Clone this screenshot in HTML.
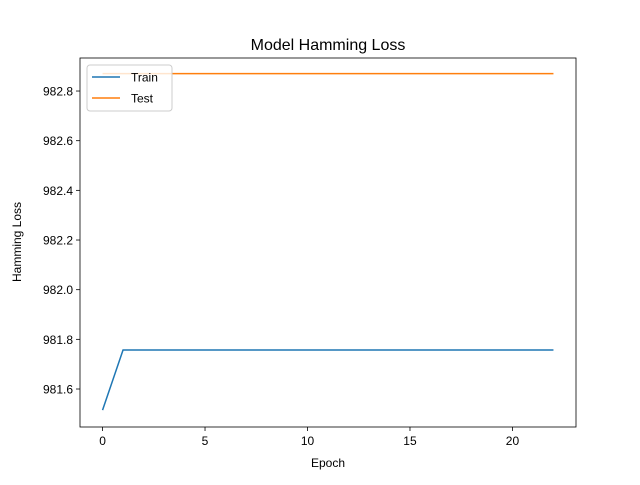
<!DOCTYPE html>
<html><head><meta charset="utf-8"><style>
body{margin:0;background:#fff}
svg text{font-family:"Liberation Sans","DejaVu Sans",sans-serif;fill:#000}
</style></head><body>
<svg id="chart" width="640" height="480" viewBox="0 0 640 480">
<rect width="640" height="480" fill="#fff"/>
<text x="328" y="50" font-size="16" text-anchor="middle">Model Hamming Loss</text>
<g id="plot"></g>
<text x="328" y="467" font-size="12" text-anchor="middle">Epoch</text>
<text x="21" y="242" font-size="12" text-anchor="middle" transform="rotate(-90 21 242)">Hamming Loss</text>
</svg>
<script>
const epochs=[0,1,2,3,4,5,6,7,8,9,10,11,12,13,14,15,16,17,18,19,20,21,22];
const trainLoss=[981.515,981.757,981.757,981.757,981.757,981.757,981.757,981.757,981.757,981.757,981.757,981.757,981.757,981.757,981.757,981.757,981.757,981.757,981.757,981.757,981.757,981.757,981.757];
const testLoss=[982.87,982.87,982.87,982.87,982.87,982.87,982.87,982.87,982.87,982.87,982.87,982.87,982.87,982.87,982.87,982.87,982.87,982.87,982.87,982.87,982.87,982.87,982.87];
const xTicks=[0,5,10,15,20];
const yTicks=[981.6,981.8,982.0,982.2,982.4,982.6,982.8];
const yTickLabels=["981.6","981.8","982.0","982.2","982.4","982.6","982.8"];
const L=80,R=576,T=58,B=427;
const xMin=-1.1,xMax=23.1,yMin=981.447,yMax=982.933;
const sx=v=>L+(v-xMin)/(xMax-xMin)*(R-L);
const sy=v=>B-(v-yMin)/(yMax-yMin)*(B-T);
const NS="http://www.w3.org/2000/svg";
const g=document.getElementById('plot');
function mk(t,a){const e=document.createElementNS(NS,t);for(const k in a)e.setAttribute(k,a[k]);g.appendChild(e);return e;}
xTicks.forEach(v=>{
 const l=mk('line',{x1:sx(v),x2:sx(v),y1:B,y2:B+4,stroke:'#000','stroke-width':0.8});
 
 
 const t=mk('text',{x:sx(v),y:B+18,'font-size':12,'text-anchor':'middle'});t.textContent=v;
 
 
});
yTicks.forEach((v,i)=>{
 const l=mk('line',{x1:L-4,x2:L,y1:sy(v),y2:sy(v),stroke:'#000','stroke-width':0.8});
 
 
 const t=mk('text',{x:L-7,y:sy(v)+4.5,'font-size':12,'text-anchor':'end'});t.textContent=yTickLabels[i];
 
 
});
function line(vals,color,name){
 const p=mk('polyline',{points:vals.map((v,i)=>sx(epochs[i])+','+sy(v)).join(' '),fill:'none',stroke:color,'stroke-width':1.5});
 
 
}
line(trainLoss,'#1f77b4','train-line');
line(testLoss,'#ff7f0e','test-line');
const fr=mk('rect',{x:L,y:T,width:R-L,height:B-T,fill:'none',stroke:'#000','stroke-width':0.8});


const lg=mk('rect',{x:87,y:65,width:85,height:46,rx:3,fill:'#fff','fill-opacity':0.8,stroke:'#ccc','stroke-width':1});


[['Train','#1f77b4',77],['Test','#ff7f0e',98]].forEach(([n,c,y])=>{
 const l=mk('line',{x1:92,x2:120,y1:y,y2:y,stroke:c,'stroke-width':1.5});
 
 
 const t=mk('text',{x:131,y:y+4.5,'font-size':12});t.textContent=n;
 
 
});
</script>
</body></html>
